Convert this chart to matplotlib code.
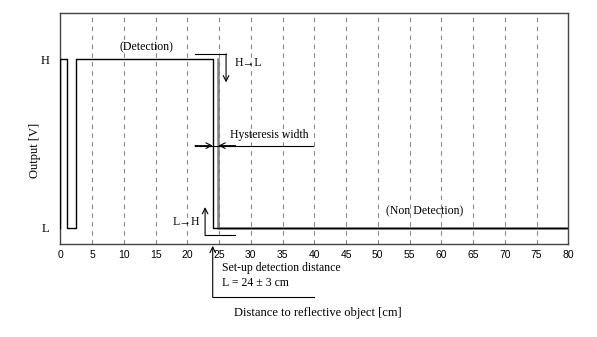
import numpy as np
import matplotlib.pyplot as plt

# output levels (axis runs 0..1)
H = 0.8
L = 0.07

# detection trace (black) : distance [cm] / level
det_x = [0.0, 0.0, 1.0, 1.0, 2.4, 2.4, 24.0, 24.0, 80.0]
det_y = [L, H, H, L, L, H, H, L, L]
# non detection trace (gray)
non_x = [24.9, 24.9, 80.0]
non_y = [H, L, L]

xticks = np.arange(0, 81, 5)
grid_x = np.arange(5, 80, 5)

serif = 'Liberation Serif'
sans = 'Liberation Sans'

fig = plt.figure(figsize=(5.97, 3.37), dpi=100)
ax = fig.add_axes([0.101, 0.276, 0.851, 0.685])

for gx in grid_x:
    ax.axvline(gx, color='#888888', linestyle=(0, (4, 4)), linewidth=0.8, zorder=1)

ax.plot(non_x, non_y, color='#808080', linewidth=1.8, zorder=2)
ax.plot(det_x, det_y, color='black', linewidth=1.0, zorder=3)

ax.set_xlim(0, 80)
ax.set_ylim(0, 1)
ax.set_xticks(xticks)
ax.set_xticklabels([str(t) for t in xticks], fontfamily=sans, fontsize=7.5)
ax.set_yticks([L, H])
ax.set_yticklabels(['L', 'H'], fontfamily=serif, fontsize=9)
ax.tick_params(axis='y', length=0, pad=8)
ax.tick_params(axis='x', length=0, pad=4)
for s in ax.spines.values():
    s.set_color('#444444')
    s.set_linewidth(1.0)

# labels
ax.text(13.6, 0.854, '(Detection)', fontfamily=serif, fontsize=8.5, ha='center', va='center')
ax.text(57.4, 0.140, '(Non Detection)', fontfamily=serif, fontsize=8.5, ha='center', va='center')

# H -> L arrow
ax.plot([21.2, 26.1], [0.822, 0.822], color='black', linewidth=0.8, clip_on=False)
ax.annotate('', xy=(26.1, 0.70), xytext=(26.1, 0.824),
            arrowprops=dict(arrowstyle='->', color='black', lw=0.8, shrinkA=0, shrinkB=0))
ax.text(27.5, 0.784, 'H→L', fontfamily=serif, fontsize=8.5, ha='left', va='center')

# hysteresis width
ax.plot([21.2, 39.8], [0.426, 0.426], color='black', linewidth=0.8)
ax.annotate('', xy=(24.0, 0.426), xytext=(21.2, 0.426),
            arrowprops=dict(arrowstyle='->', color='black', lw=0.8, shrinkA=0, shrinkB=0))
ax.annotate('', xy=(24.9, 0.426), xytext=(27.6, 0.426),
            arrowprops=dict(arrowstyle='->', color='black', lw=0.8, shrinkA=0, shrinkB=0))
ax.text(26.8, 0.445, 'Hysteresis width', fontfamily=serif, fontsize=8.5, ha='left', va='bottom')

# L -> H arrow
ax.plot([22.8, 27.5], [0.039, 0.039], color='black', linewidth=0.8)
ax.annotate('', xy=(22.8, 0.16), xytext=(22.8, 0.037),
            arrowprops=dict(arrowstyle='->', color='black', lw=0.8, shrinkA=0, shrinkB=0))
ax.text(22.0, 0.095, 'L→H', fontfamily=serif, fontsize=8.5, ha='right', va='center')

# set-up detection distance
ax.plot([24.0, 40.0], [-0.229, -0.229], color='black', linewidth=0.8, clip_on=False)
ax.annotate('', xy=(24.0, -0.008), xytext=(24.0, -0.231),
            arrowprops=dict(arrowstyle='->', color='black', lw=0.8, shrinkA=0, shrinkB=0),
            annotation_clip=False)
ax.text(25.5, -0.104, 'Set-up detection distance', fontfamily=serif, fontsize=8.5,
        ha='left', va='center', clip_on=False)
ax.text(25.5, -0.169, 'L = 24 ± 3 cm', fontfamily=serif, fontsize=8.5,
        ha='left', va='center', clip_on=False)

fig.text(318 / 597, 1 - 313 / 337, 'Distance to reflective object [cm]',
         fontfamily=serif, fontsize=9, ha='center', va='center')
fig.text(35 / 597, 1 - 150 / 337, 'Output [V]', fontfamily=serif, fontsize=9,
         ha='center', va='center', rotation=90)

fig.savefig('out.png', dpi=100)
